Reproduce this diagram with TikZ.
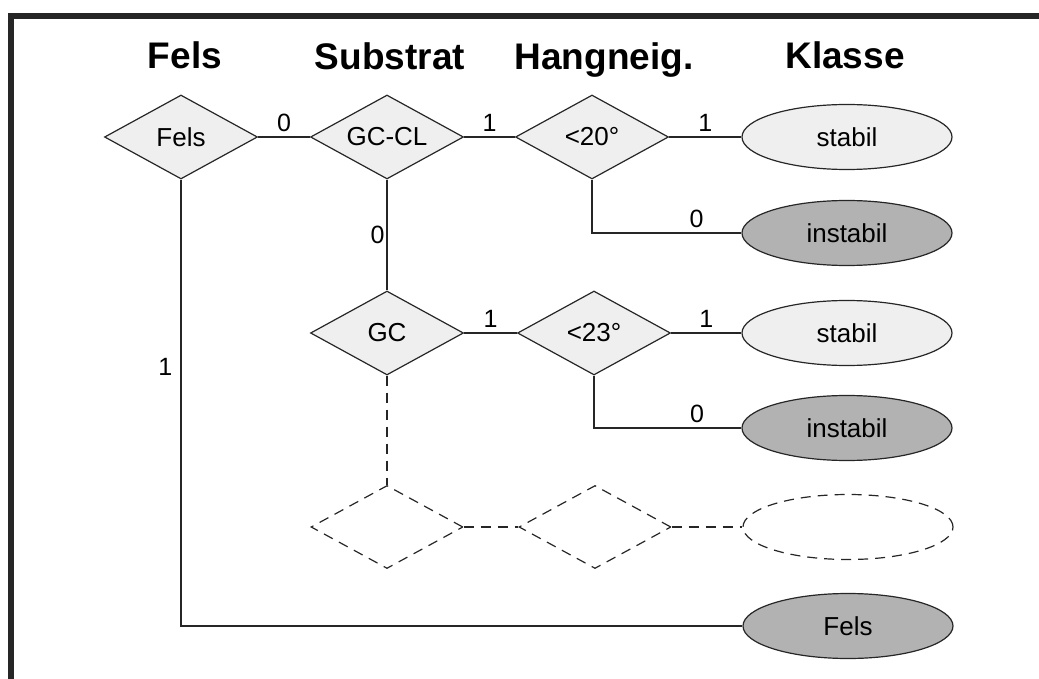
\documentclass[tikz,border=0pt]{standalone}
\usepackage{fontspec}
\setmainfont{Liberation Sans}
\usetikzlibrary{shapes.geometric}
\definecolor{lightfill}{HTML}{EFEFEF}
\definecolor{darkfill}{HTML}{B2B2B2}
\definecolor{framecol}{HTML}{262626}
\begin{document}
\begin{tikzpicture}[x=1pt,y=-1pt,
  line width=1.2pt,
  dec/.style={diamond,draw=black!85,fill=lightfill,aspect=1.8,inner sep=0pt,
    minimum width=153pt,minimum height=84pt,font=\fontsize{26}{30}\selectfont},
  ghostdec/.style={diamond,draw=black!85,dash pattern=on 10pt off 7pt,aspect=1.8,inner sep=0pt,
    minimum width=152pt,minimum height=83pt},
  leaf/.style={ellipse,draw=black!85,inner sep=0pt,minimum width=210pt,minimum height=65pt,
    font=\fontsize{26}{30}\selectfont},
  okleaf/.style={leaf,fill=lightfill},
  badleaf/.style={leaf,fill=darkfill},
  ghostleaf/.style={leaf,dash pattern=on 10pt off 7pt},
  hdr/.style={anchor=base,font=\fontsize{37}{44}\selectfont\bfseries},
  lbl/.style={font=\fontsize{25}{29}\selectfont,inner sep=5pt},
  link/.style={draw=black!85},
  ghostlink/.style={draw=black!85,dash pattern=on 10pt off 7pt}]
\useasboundingbox (0,0) rectangle (1039,679);
\draw[line width=6pt,framecol] (11,679) -- (11,16) -- (1039,16);
% headers
\node[hdr] (h1) at (185,69) {Fels};
\node[hdr] (h2) at (390,70) {Substrat};
\node[hdr] (h3) at (604,70) {Hangneig.};
\node[hdr] (h4) at (845,69) {Klasse};
% nodes
\node[dec] (fels) at (181,137) {Fels};
\node[dec] (gccl) at (387,137) {GC-CL};
\node[dec] (a20) at (592,137) {<20°};
\node[okleaf] (st1) at (847,137) {stabil};
\node[badleaf] (in1) at (847,233) {instabil};
\node[dec] (gc) at (387,333) {GC};
\node[dec] (a23) at (594,333) {<23°};
\node[okleaf] (st2) at (847,333) {stabil};
\node[badleaf] (in2) at (847,428) {instabil};
\node[ghostdec] (g1) at (387,527) {};
\node[ghostdec] (g2) at (595,527) {};
\node[ghostleaf] (g3) at (848,527) {};
\node[badleaf] (rock) at (848,626) {Fels};
% connectors
\path[link] (fels.east) -- node[lbl,above] {0} (gccl.west);
\path[link] (gccl.east) -- node[lbl,above] {1} (a20.west);
\path[link] (a20.east) -- node[lbl,above] {1} (st1.west);
\path[link] (a20.south) |- node[lbl,above,pos=0.85] {0} (in1.west);
\path[link] (gccl.south) -- node[lbl,left,inner sep=2pt] {0} (gc.north);
\path[link] (gc.east) -- node[lbl,above] {1} (a23.west);
\path[link] (a23.east) -- node[lbl,above] {1} (st2.west);
\path[link] (a23.south) |- node[lbl,above,pos=0.85] {0} (in2.west);
\path[ghostlink] (gc.south) -- (g1.north);
\path[ghostlink] (g1.east) -- (g2.west);
\path[ghostlink] (g2.east) -- (g3.west);
\path[link] (fels.south) |- node[lbl,left,pos=0.21,inner sep=8pt] {1} (rock.west);
\end{tikzpicture}
\end{document}
